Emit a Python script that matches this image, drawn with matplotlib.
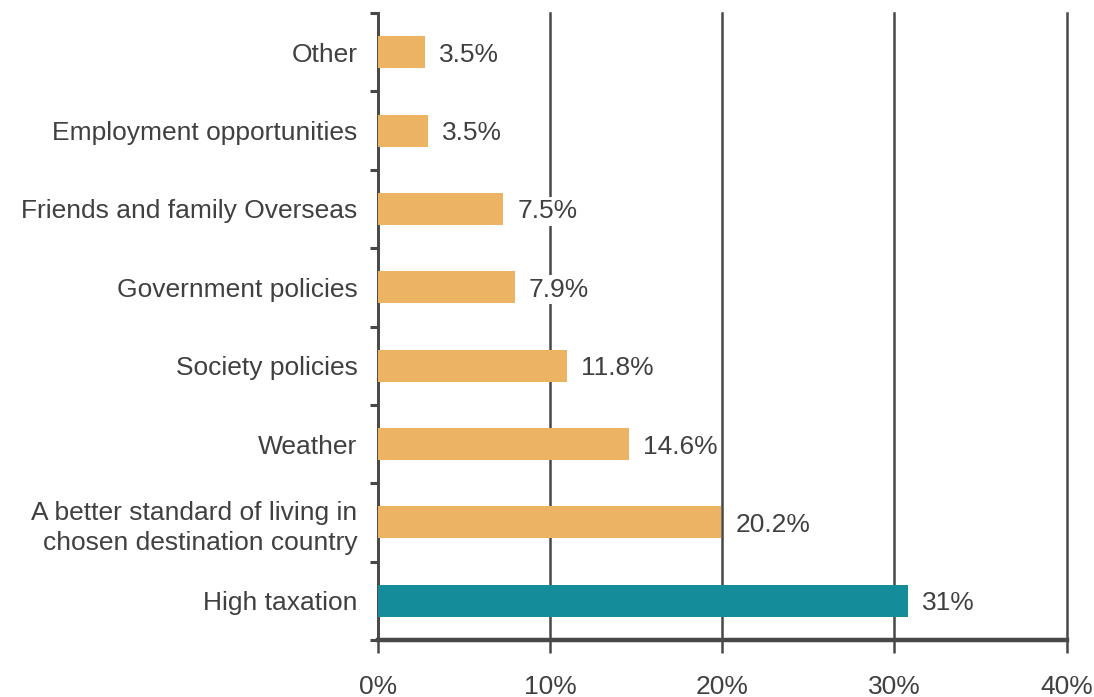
import matplotlib.pyplot as plt
from matplotlib.ticker import FixedLocator

plt.rcParams['font.family'] = ['Liberation Sans', 'DejaVu Sans']

# categories listed bottom to top
reasons = ["High taxation",
           "A better standard of living in\nchosen destination country",
           "Weather", "Society policies", "Government policies",
           "Friends and family Overseas", "Employment opportunities", "Other"]
# bar lengths as drawn in the picture (percent)
bar_values = [30.8, 19.95, 14.6, 11.0, 7.97, 7.3, 2.94, 2.75]
# labels printed next to the bars
value_labels = ["31%", "20.2%", "14.6%", "11.8%", "7.9%", "7.5%", "3.5%", "3.5%"]
bar_colors = ["#148c9a"] + ["#ecb462"] * 7
x_ticks = [0, 10, 20, 30, 40]

text_color = "#404040"
line_color = "#484848"
fs = 19

fig = plt.figure(figsize=(10.94, 6.97), dpi=100)
ax = fig.add_axes([0.3453, 0.0818, 0.6297, 0.8995])

ypos = list(range(len(reasons)))
ax.barh(ypos, bar_values, height=0.41, color=bar_colors, zorder=3)

for y, v, lab in zip(ypos, bar_values, value_labels):
    ax.annotate(lab, (v, y), xytext=(10, 0), textcoords="offset points",
                va="center_baseline", ha="left", fontsize=fs, color=text_color, zorder=4,
                bbox=dict(boxstyle="square,pad=0.1", fc="white", ec="none"))

ax.set_xlim(0, 40)
ax.set_ylim(-0.5, len(reasons) - 0.5)
ax.set_xticks(x_ticks)
ax.set_xticklabels([f"{t}%" for t in x_ticks])
ax.set_yticks(ypos)
ax.set_yticklabels(reasons, linespacing=1.3, va="center_baseline")
ax.yaxis.set_minor_locator(FixedLocator([i - 0.5 for i in range(len(reasons) + 1)]))

ax.grid(axis="x", color=line_color, linewidth=1.8, zorder=1)
for gl in ax.get_xgridlines():
    gl.set_clip_on(False)
ax.tick_params(axis="x", length=9, width=1.8, color=line_color, pad=16,
               labelsize=fs, labelcolor=text_color)
ax.tick_params(axis="y", which="major", length=0, pad=14.5,
               labelsize=fs, labelcolor=text_color)
ax.tick_params(axis="y", which="minor", length=6, width=2.2, color=line_color)

for s in ["top", "right"]:
    ax.spines[s].set_visible(False)
ax.spines["left"].set_color(line_color)
ax.spines["left"].set_linewidth(2)
ax.spines["bottom"].set_color(line_color)
ax.spines["bottom"].set_linewidth(3.2)
ax.spines["bottom"].set_zorder(5)

plt.savefig("out.png")
plt.close()
